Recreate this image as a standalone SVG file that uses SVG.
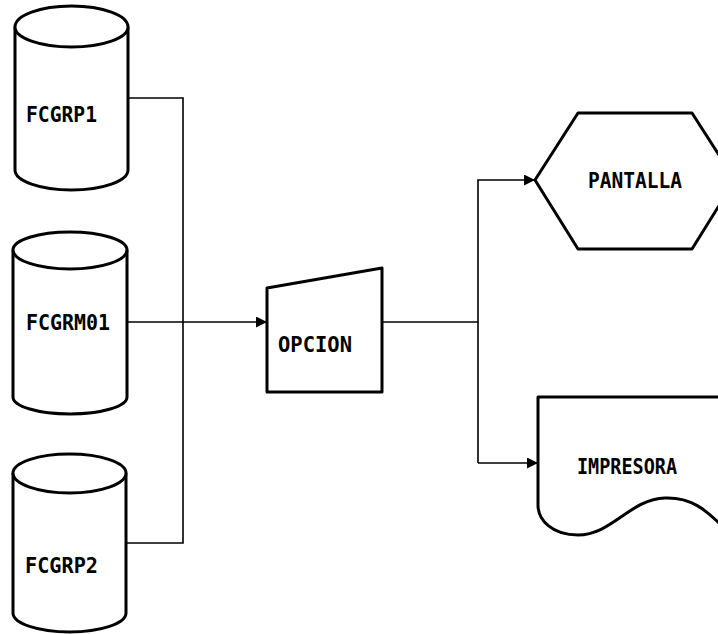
<svg xmlns="http://www.w3.org/2000/svg" width="718" height="634" viewBox="0 0 718 634">
<style>
.shape{fill:#fff;stroke:#000;stroke-width:3;stroke-linejoin:round}
.conn{fill:none;stroke:#000;stroke-width:1.6}
.lbl{font-family:"DejaVu Sans Mono","Liberation Mono",monospace;font-weight:bold;font-size:22px;fill:#000}
</style>
<defs>
<marker id="arr" viewBox="0 0 10 10" refX="10" refY="5" markerWidth="11" markerHeight="11" markerUnits="userSpaceOnUse" orient="auto">
<path d="M0,0 L10,5 L0,10 Z" fill="#000"/>
</marker>
</defs>
<rect width="718" height="634" fill="#fff"/>
<g id="connectors">
<path class="conn" d="M128,98 H183 V543 H126"/>
<path class="conn" d="M127,322 H267" marker-end="url(#arr)"/>
<path class="conn" d="M382,322 H478"/>
<path class="conn" d="M478,463 V180 H535" marker-end="url(#arr)"/>
<path class="conn" d="M478,463 H538" marker-end="url(#arr)"/>
</g>
<g id="FCGRP1">
<path class="shape" d="M15,27 A56.5,21 0 0 1 128,27 V170 A56.5,20 0 0 1 15,170 Z"/>
<path class="shape" d="M15,27 A56.5,20 0 0 0 128,27"/>
<text class="lbl" x="26" y="122" textLength="71" lengthAdjust="spacingAndGlyphs">FCGRP1</text>
</g>
<g id="FCGRM01">
<path class="shape" d="M13,250 A57,18 0 0 1 127,250 V397 A57,17 0 0 1 13,397 Z"/>
<path class="shape" d="M13,250 A57,19 0 0 0 127,250"/>
<text class="lbl" x="26" y="330" textLength="84" lengthAdjust="spacingAndGlyphs">FCGRM01</text>
</g>
<g id="FCGRP2">
<path class="shape" d="M13,473 A56.5,19 0 0 1 126,473 V613 A56.5,19 0 0 1 13,613 Z"/>
<path class="shape" d="M13,473 A56.5,20 0 0 0 126,473"/>
<text class="lbl" x="25" y="573" textLength="73" lengthAdjust="spacingAndGlyphs">FCGRP2</text>
</g>
<g id="OPCION">
<path class="shape" d="M267,288 L382,268 L382,392 L267,392 Z"/>
<text class="lbl" x="278" y="352" textLength="74" lengthAdjust="spacingAndGlyphs">OPCION</text>
</g>
<g id="PANTALLA">
<path class="shape" d="M535,180 L578,113 L692,113 L735,180 L692,249 L578,249 Z"/>
<text class="lbl" x="588" y="188" textLength="94" lengthAdjust="spacingAndGlyphs">PANTALLA</text>
</g>
<g id="IMPRESORA">
<path class="shape" d="M538,397 L728,397 L728,532 C705,508 690,497 665,498 C630,499 612,535 578,535 C552,535 538,520 538,505 Z"/>
<text class="lbl" x="577" y="474" textLength="100" lengthAdjust="spacingAndGlyphs">IMPRESORA</text>
</g>
</svg>
